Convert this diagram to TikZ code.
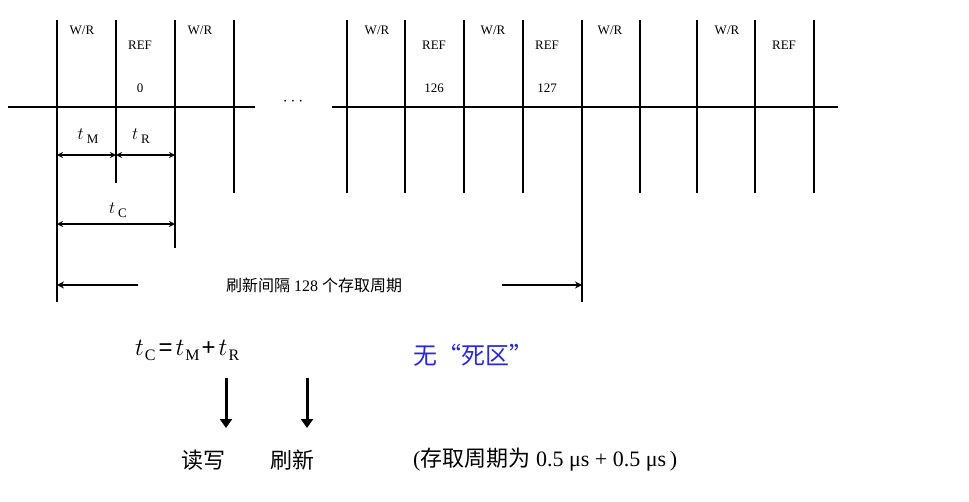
\documentclass[tikz,border=0pt]{standalone}
\usepackage{fontspec}
\setmainfont{Liberation Serif}
\setsansfont{Liberation Sans}
\newfontfamily\zhfont{Noto Sans CJK SC}
\usetikzlibrary{arrows.meta}
\begin{document}
\begin{tikzpicture}[x=1pt,y=-1pt,
  tick/.style={line width=1.8pt},
  lbl/.style={font=\fontsize{13}{13}\selectfont,inner sep=0pt},
  dim/.style={line width=1.4pt,{Stealth[length=6pt,width=6pt,open]}-{Stealth[length=6pt,width=6pt,open]}},
  big/.style={font=\fontsize{22}{22}\selectfont,inner sep=0pt},
  dn/.style={line width=3pt,-{Triangle[length=9pt,width=12pt]}}]
\useasboundingbox (0,0) rectangle (969,501);
% axis
\coordinate (a0) at (8,107); \coordinate (a1) at (255,107);
\coordinate (a2) at (332,107); \coordinate (a3) at (838,107);
\draw[tick] (a0)--(a1); \draw[tick] (a2)--(a3);
\node[font=\fontsize{16}{16}\selectfont] (dots) at (293,102) {$\cdots$};
% ticks
\foreach \x/\b in {57/302,116/183,175/248,234/193,347/193,405/193,464/193,523/193,582/302,640/193,697/193,755/193,814/193}
  \draw[tick] (\x,20)--(\x,\b);
% labels
\foreach \x in {82,200,377,493,610,727} \node[lbl] at (\x,30) {W/R};
\foreach \x in {140,434,547,784} \node[lbl] at (\x,45) {REF};
\node[lbl] at (140,88) {0};
\node[lbl] at (434,88) {126};
\node[lbl] at (547,88) {127};
% dimension arrows
\coordinate (m0) at (57,155); \coordinate (m1) at (116,155); \coordinate (m2) at (175,155);
\draw[dim] (m0)--(m1); \draw[dim] (m1)--(m2);
\node[font=\fontsize{18}{18}\selectfont] (tm) at (88,136) {$t$\,\fontsize{13}{13}\selectfont\raisebox{-4pt}{M}};
\node[font=\fontsize{18}{18}\selectfont] (tr) at (141,136) {$t$\,\fontsize{13}{13}\selectfont\raisebox{-4pt}{R}};
\coordinate (c0) at (57,224); \coordinate (c1) at (175,224);
\draw[dim] (c0)--(c1);
\node[font=\fontsize{18}{18}\selectfont] (tc) at (118,210) {$t$\,\fontsize{13}{13}\selectfont\raisebox{-4pt}{C}};
% refresh interval
\coordinate (r0) at (57,285); \coordinate (r1) at (582,285);
\coordinate (r0b) at (138,285); \coordinate (r1b) at (502,285);
\draw[line width=1.8pt,-{Stealth[length=7pt,width=7pt,open]}] (r0b)--(r0);
\draw[line width=1.8pt,-{Stealth[length=7pt,width=7pt,open]}] (r1b)--(r1);
\node[font=\fontsize{16}{16}\selectfont,inner sep=0pt] (ri) at (314,285) {{\zhfont 刷新间隔} 128 {\zhfont 个存取周期}};
% formula
\node[font=\fontsize{24}{24}\selectfont,inner sep=0pt,anchor=west] (f) at (135,350)
 {$t$\kern1pt{\fontsize{16}{16}\selectfont\raisebox{-5pt}{C}}\kern3pt{\sffamily =}\kern3pt$t$\kern1pt{\fontsize{16}{16}\selectfont\raisebox{-5pt}{M}}\kern2pt{\sffamily +}\kern3pt$t$\kern1pt{\fontsize{16}{16}\selectfont\raisebox{-5pt}{R}}};
\node[font=\fontsize{24}{24}\selectfont\zhfont,text={rgb,255:red,40;green,40;blue,220},inner sep=0pt,anchor=west] (nd) at (413,355) {无“死区”};
\coordinate (d0) at (226,378); \coordinate (d0e) at (226,428);
\coordinate (d1) at (307,378); \coordinate (d1e) at (307,428);
\draw[dn] (d0)--(d0e); \draw[dn] (d1)--(d1e);
\node[big,anchor=west] (rw) at (181,460) {\zhfont 读写};
\node[big,anchor=west] (sx) at (270,460) {\zhfont 刷新};
\node[big,anchor=west] (cyc) at (413,460) {({\zhfont 存取周期为} 0.5 μs + 0.5 μs\,)};
\end{tikzpicture}
\end{document}
